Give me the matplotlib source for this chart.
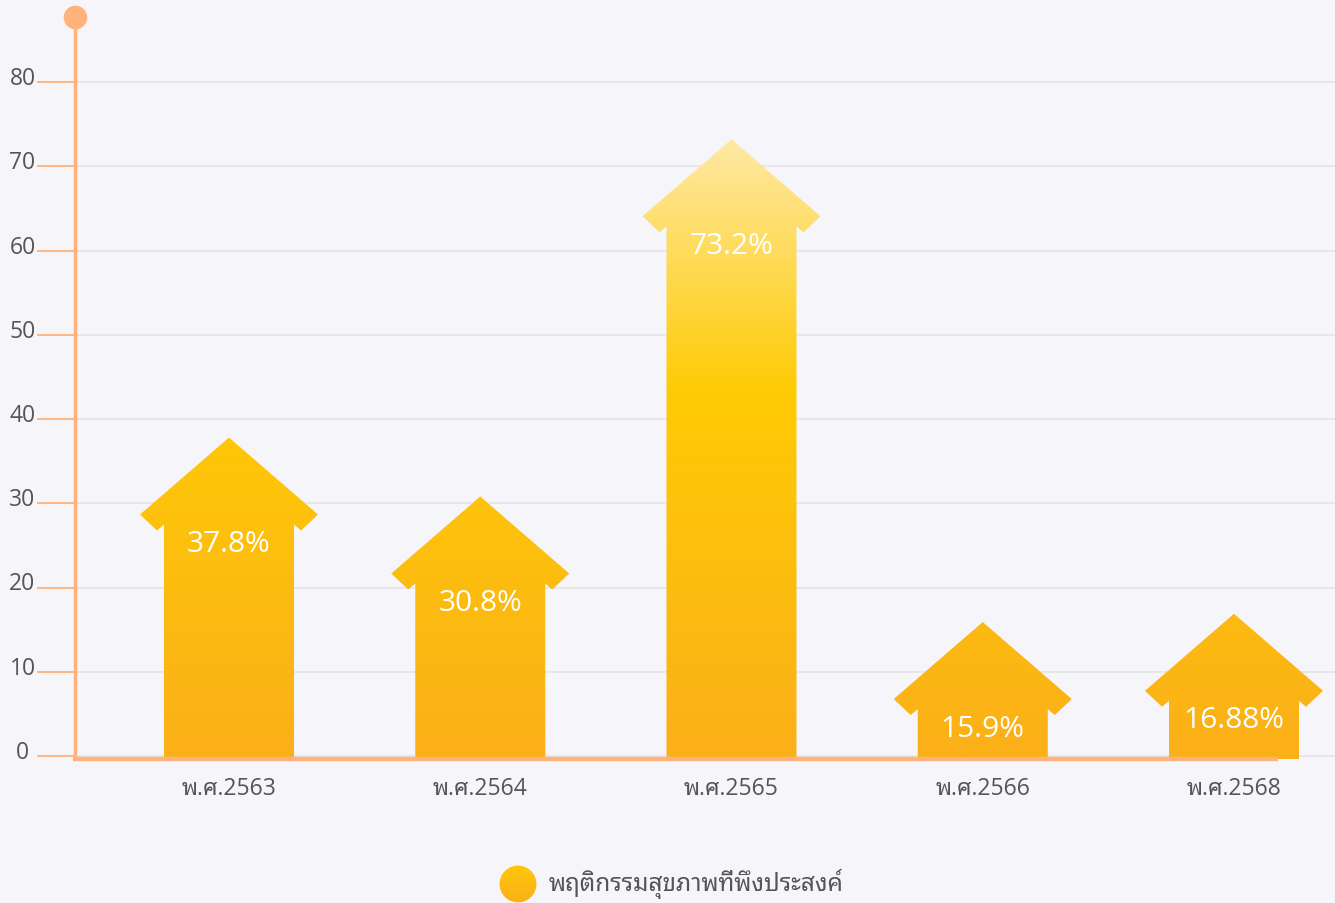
import matplotlib
matplotlib.use("Agg")
import matplotlib.pyplot as plt
import numpy as np
from matplotlib.patches import Polygon, Circle
from matplotlib.colors import LinearSegmentedColormap

# ---- data ----
categories = ["พ.ศ.2563", "พ.ศ.2564", "พ.ศ.2565", "พ.ศ.2566", "พ.ศ.2568"]
values = [37.8, 30.8, 73.2, 15.9, 16.88]
value_labels = ["37.8%", "30.8%", "73.2%", "15.9%", "16.88%"]
series_name = "พฤติกรรมสุขภาพที่พึงประสงค์"
y_ticks = [0, 10, 20, 30, 40, 50, 60, 70, 80]

# ---- style ----
W, H, DPI = 1335, 904, 100
BG = "#f5f5fa"
ORANGE = "#ffb27c"
GRID = "#e6e6ea"
TXT = "#555555"
THAI = ["Open Sans", "Noto Sans Thai Looped", "Noto Sans Thai", "Sarabun", "DejaVu Sans"]

# pixel geometry
ax_left, ax_right, ax_top, ax_bot = 75, 1335, 18, 760
px_per_unit = 8.425
y0_px = 757
x0_px, x_step = 229, 251.25

ylim = (-(ax_bot - y0_px) / px_per_unit, (y0_px - ax_top) / px_per_unit)
xlim = ((ax_left - x0_px) / x_step, (ax_right - x0_px) / x_step)

fig = plt.figure(figsize=(W / DPI, H / DPI), dpi=DPI, facecolor=BG)
ax = fig.add_axes([ax_left / W, 1 - ax_bot / H, (ax_right - ax_left) / W, (ax_bot - ax_top) / H])
ax.set_facecolor(BG)
ax.set_xlim(*xlim)
ax.set_ylim(*ylim)
for s in ax.spines.values():
    s.set_visible(False)
ax.set_xticks([])
ax.set_yticks([])

def dx(px):
    return px / x_step

def dy(px):
    return px / px_per_unit

# grid lines + ticks + labels
for t in y_ticks:
    ax.plot([xlim[0], xlim[1]], [t, t], color=GRID, lw=1.3, zorder=0.5, solid_capstyle="butt")
    ax.plot([dx(37 - x0_px), xlim[0]], [t, t], color=ORANGE, lw=1.3, clip_on=False,
            solid_capstyle="butt", zorder=3)
    ax.text(dx(22.5 - x0_px), t - dy(2), str(t), ha="center", va="baseline", fontsize=16.5,
            color=TXT, family=THAI, clip_on=False)

# gradient colormap (global, vertical)
grad_top = max(values)
mid = 43.6 / grad_top
cmap = LinearSegmentedColormap.from_list(
    "g", [(0.0, "#fbb018"), (mid, "#ffcb05"), (1.0, "#fee9a3")])
yy = np.linspace(ylim[0], ylim[1], 600).reshape(-1, 1)
grad_img = np.clip(yy / grad_top, 0, 1)

# arrows
hw_head, hw_notch, hw_body = dx(89), dx(72), dx(65)
d_head, d_notch, d_body = dy(77), dy(93), dy(87)
base = ylim[0]
for i, v in enumerate(values):
    pts = [
        (i, v),
        (i + hw_head, v - d_head),
        (i + hw_notch, v - d_notch),
        (i + hw_body, v - d_body),
        (i + hw_body, base),
        (i - hw_body, base),
        (i - hw_body, v - d_body),
        (i - hw_notch, v - d_notch),
        (i - hw_head, v - d_head),
    ]
    poly = Polygon(pts, closed=True, facecolor="none", edgecolor="none", zorder=2)
    ax.add_patch(poly)
    im = ax.imshow(grad_img, cmap=cmap, vmin=0, vmax=1, origin="lower", aspect="auto",
                   extent=(xlim[0], xlim[1], ylim[0], ylim[1]), zorder=2, interpolation="bilinear")
    im.set_clip_path(poly)
    ax.text(i, v - dy(106), value_labels[i], ha="center", va="center", color="white",
            fontsize=21.5, family=THAI, zorder=4)

ax.set_xlim(*xlim)
ax.set_ylim(*ylim)

# axes lines
ax.plot([xlim[0], xlim[0]], [ylim[0], ylim[1]], color=ORANGE, lw=2.5, clip_on=False, zorder=5,
        solid_capstyle="butt")
ax.plot([xlim[0]], [ylim[1]], marker="o", ms=17, color=ORANGE, clip_on=False, zorder=6,
        markeredgewidth=0)
ax.plot([xlim[0] - dx(2), dx(1278 - x0_px)], [ylim[0], ylim[0]], color=ORANGE, lw=3.2,
        clip_on=False, zorder=5, solid_capstyle="butt")

# x labels
for i, c in enumerate(categories):
    ax.text(i, ylim[0] - dy(29), c, ha="center", va="center", fontsize=16.5, color=TXT,
            family=THAI, clip_on=False)

# legend
lax = fig.add_axes([(518 - 19) / W, 1 - (885 + 19) / H, 38 / W, 38 / H])
lax.set_xlim(-1, 1)
lax.set_ylim(-1, 1)
lax.axis("off")
circ = Circle((0, 0), 0.97, facecolor="none", edgecolor="none")
lax.add_patch(circ)
lg = np.linspace(1, 0, 100).reshape(-1, 1)
lcmap = LinearSegmentedColormap.from_list("l", ["#fbb018", "#ffc70a"])
lim_ = lax.imshow(lg, cmap=lcmap, origin="upper", extent=(-1, 1, -1, 1), aspect="auto")
lim_.set_clip_path(circ)
fig.text(549 / W, 1 - 884 / H, series_name, ha="left", va="center", fontsize=17.5,
         color=TXT, family=THAI)

fig.savefig("out.png", dpi=DPI, facecolor=BG)
